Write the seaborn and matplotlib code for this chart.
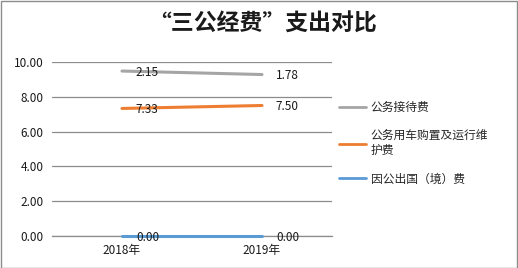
import matplotlib
matplotlib.use("Agg")
import matplotlib.pyplot as plt
import seaborn as sns
import pandas as pd
import numpy as np
from matplotlib.lines import Line2D
from matplotlib.patches import Rectangle

years = ["2018年", "2019年"]
series_names = ["因公出国（境）费", "公务用车购置及运行维护费", "公务接待费"]
abroad = [0.00, 0.00]
vehicle = [7.33, 7.50]
reception = [2.15, 1.78]
colors = {"因公出国（境）费": "#5B9BD5", "公务用车购置及运行维护费": "#ED7D31", "公务接待费": "#A5A5A5"}
legend_labels = {"公务接待费": "公务接待费", "公务用车购置及运行维护费": "公务用车购置及运行维\n护费", "因公出国（境）费": "因公出国（境）费"}

sns.set_theme(style="white")
plt.rcParams['font.family'] = ['Noto Sans CJK SC', 'DejaVu Sans']

raw = [abroad, vehicle, reception]
cum = np.cumsum(np.array(raw), axis=0)
rows = []
for name, r, c in zip(series_names, raw, cum):
    for i, y in enumerate(years):
        rows.append({"year": y, "x": i, "series": name, "stacked": c[i], "value": r[i]})
df = pd.DataFrame(rows)

fig = plt.figure(figsize=(5.18, 2.68), dpi=100)
ax = fig.add_axes([52/518, 1-236/268, 280/518, 174/268])

sns.lineplot(data=df, x="x", y="stacked", hue="series", palette=colors,
             hue_order=series_names, linewidth=2.2, ax=ax, legend=False, zorder=3)
for ln in ax.get_lines():
    ln.set_clip_on(False)

for _, r in df.iterrows():
    ax.annotate(f"{r['value']:.2f}", (r["x"], r["stacked"]), xytext=(10, -1),
                textcoords="offset points", ha="left", va="center", fontsize=8.5,
                color="#1a1a1a", zorder=4)

ax.set_xlim(-0.5, 1.5)
ax.set_ylim(0, 10)
ax.set_yticks(np.arange(0, 10.01, 2))
ax.set_yticklabels([f"{v:.2f}" for v in np.arange(0, 10.01, 2)], fontsize=8.5)
ax.set_xticks([0, 1])
ax.set_xticklabels(years, fontsize=8.5)
ax.set_xlabel("")
ax.set_ylabel("")
ax.tick_params(axis='both', length=0, pad=6, colors="#1a1a1a")
ax.yaxis.grid(True, color="#8c8c8c", linewidth=0.9)
ax.set_axisbelow(True)
for s in ["top", "right", "left"]:
    ax.spines[s].set_visible(False)
ax.spines["bottom"].set_color("#8c8c8c")
ax.spines["bottom"].set_linewidth(0.9)
ax.spines["bottom"].set_zorder(1)

order = ["公务接待费", "公务用车购置及运行维护费", "因公出国（境）费"]
handles = [Line2D([0], [0], color=colors[n], lw=2) for n in order]
labels = [legend_labels[n] for n in order]
fig.legend(handles, labels, loc="upper left", bbox_to_anchor=(334/518, 1-96/268),
           frameon=False, fontsize=8.5, handlelength=2.3, handletextpad=0.4,
           labelspacing=1.3, borderaxespad=0)

fig.text(263/518, 1-24/268, "“三公经费”支出对比", ha="center", va="center",
         fontsize=16.5, fontweight="bold", color="#1a1a1a")

fig.add_artist(Rectangle((0.5/518, 0.5/268), 516.5/518, 266.5/268, transform=fig.transFigure,
                         fill=False, edgecolor="#8c8c8c", linewidth=1))

fig.savefig("out.png", dpi=100)
